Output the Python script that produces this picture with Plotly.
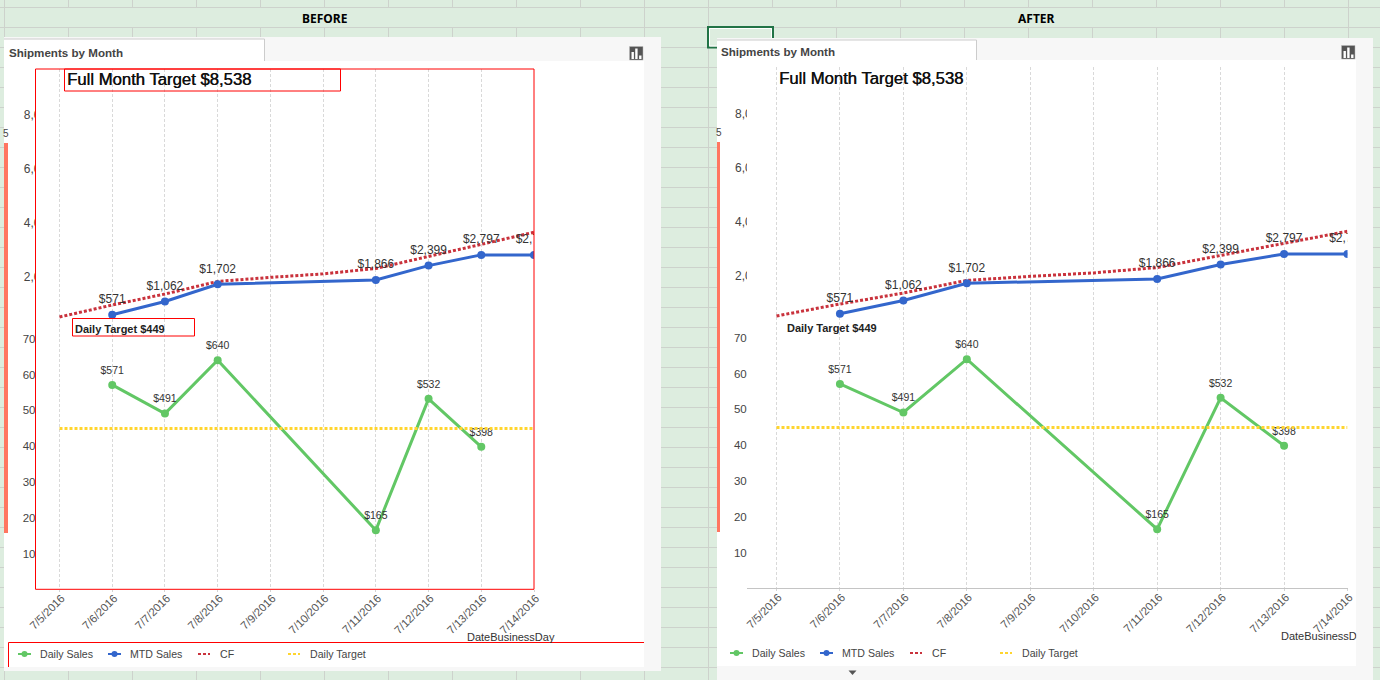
import plotly.graph_objects as go

# ---------- data ----------
dates = ["7/5/2016", "7/6/2016", "7/7/2016", "7/8/2016", "7/9/2016",
         "7/10/2016", "7/11/2016", "7/12/2016", "7/13/2016", "7/14/2016"]
sales_dates = ["7/6/2016", "7/7/2016", "7/8/2016", "7/11/2016", "7/12/2016", "7/13/2016"]
daily_sales = [571, 491, 640, 165, 532, 398]
mtd_dates = ["7/6/2016", "7/7/2016", "7/8/2016", "7/11/2016", "7/12/2016", "7/13/2016", "7/14/2016"]
mtd_sales = [571, 1062, 1702, 1866, 2399, 2797, 2797]
cf_values = [484, 931, 1340, 1810, 1960, 2090, 2290, 2740, 3170, 3640]
daily_target = [449, 449, 449, 449, 449, 449, 449, 449, 449, 449]
daily_ticks = [100, 200, 300, 400, 500, 600, 700]
daily_ticktext = ["10", "20", "30", "40", "50", "60", "70"]
mtd_ticks = [2000, 4000, 6000, 8000]
mtd_ticktext = ["2,0", "4,0", "6,0", "8,0"]
legend_names = ["Daily Sales", "MTD Sales", "CF", "Daily Target"]

# ---------- style ----------
W, H = 1380, 680
FONT = "Liberation Sans"
GREEN, BLUE, RED, YELLOW = "#62C765", "#3366CC", "#C9323C", "#FFD52E"
CELL_BG, CELL_LINE = "#DDEDDF", "#CDD2CC"
PANEL_GREY = "#F7F7F7"
SALMON = "#FF7661"
BOX_RED = "#FF0000"


def X(p):
    return p / W


def Y(p):
    return 1 - p / H


shapes = []
annots = []


def rect(x0, y0, x1, y1, fill=None, line=None, lw=1, layer="below"):
    shapes.append(dict(type="rect", xref="paper", yref="paper", layer=layer,
                       x0=X(x0), x1=X(x1), y0=Y(y1), y1=Y(y0),
                       fillcolor=fill or "rgba(0,0,0,0)",
                       line=dict(color=line or "rgba(0,0,0,0)", width=lw if line else 0)))


def seg(x0, y0, x1, y1, color, lw=1, dash=None, layer="below"):
    ln = dict(color=color, width=lw)
    if dash:
        ln["dash"] = dash
    shapes.append(dict(type="line", xref="paper", yref="paper", layer=layer,
                       x0=X(x0), x1=X(x1), y0=Y(y0), y1=Y(y1), line=ln))


def text(s, x, y, size=12, color="#333333", bold=False, anchor="left", family=FONT, shadow=None):
    font = dict(family=family, size=size, color=color)
    if shadow:
        font["shadow"] = shadow
    annots.append(dict(text=f"<b>{s}</b>" if bold else s, xref="paper", yref="paper",
                       x=X(x), y=Y(y), xanchor=anchor, yanchor="middle", showarrow=False,
                       borderpad=0, borderwidth=0, font=font))


# ---------- worksheet ----------
for k in range(0, 22):
    vx = 4.5 + 64 * k
    if vx > W:
        break
    merged = (4.5 < vx < 644) or (708.5 < vx < 1348)
    if merged:
        seg(vx, 0, vx, 7.5, CELL_LINE)
        seg(vx, 27.5, vx, H, CELL_LINE)
    else:
        seg(vx, 0, vx, H, CELL_LINE)
for k in range(0, 35):
    hy = 7.5 + 20 * k
    if hy <= H:
        seg(0, hy, W, hy, CELL_LINE)

# selected cell
rect(708, 27, 773, 47.5, line="#217346", lw=2)
rect(709.5, 28.5, 771.5, 46, line="#FFFFFF", lw=1)

text("BEFORE", 325, 18.5, size=12, color="#000000", bold=True, anchor="center", family="Noto Sans")
text("AFTER", 1036, 18.5, size=12, color="#000000", bold=True, anchor="center", family="Noto Sans")


def panel(left, top, right, bottom, inner_right, inner_top, inner_bottom, tab_right, dy, bar_right):
    rect(left, top, right, bottom, fill=PANEL_GREY)
    rect(left, inner_top, inner_right, inner_bottom, fill="#FFFFFF")
    rect(left, top + 2, tab_right, inner_top, fill="#FFFFFF")
    seg(left, top + 2, tab_right, top + 2, "#CCCCCC")
    seg(tab_right, top + 2, tab_right, inner_top, "#CCCCCC")
    rect(left, 143 - dy, bar_right, 533 - dy, fill=SALMON)
    # chart-type icon
    ix, iy = inner_right - 14.5, 46.5 - dy
    rect(ix, iy, ix + 13.5, iy + 13.5, fill="#555555", line="#BBBBBB", lw=0.5)
    for bx, bh in ((2, 7), (5.7, 10.5), (9.6, 3.5)):
        rect(ix + bx, iy + 12.5 - bh, ix + bx + 2.4, iy + 12.5, fill="#FFFFFF")


panel(4, 37, 661, 671, 644, 61, 667, 264.5, 0, 8)
panel(717, 38, 1373, 680, 1356, 60, 666, 976.5, 1, 720)

text("Shipments by Month", 9, 52.5, size=11.6, color="#444444", bold=True)
text("Shipments by Month", 721, 51.5, size=11.6, color="#444444", bold=True)
text("5", 3, 134, size=10, color="#444444")
text("5", 716, 133, size=10, color="#444444")

# drop-down triangle under the right panel
shapes.append(dict(type="path", xref="paper", yref="paper", layer="below",
                   path=f"M {X(848.5)},{Y(670.5)} L {X(856.5)},{Y(670.5)} L {X(852.5)},{Y(675)} Z",
                   fillcolor="#555555", line=dict(width=0)))

# ---------- charts ----------
fig = go.Figure()
PX_DAILY = 0.358      # pixels per unit, daily scale
PX_MTD = 0.02685      # pixels per unit, MTD scale


def add_chart(n, left, right, top, bottom, zero_mtd, x_first, axis_line):
    xa = f"x{n}" if n > 1 else "x"
    ya = f"y{2 * n - 1}" if n > 1 else "y"
    yb = f"y{2 * n}"
    span = (x_first - left)
    step = (right - x_first) / 9
    x_range = [-span / step, 9]

    def series(x, y, name, color, yref, dash=None, labels=False, font=12):
        fig.add_trace(go.Scatter(
            x=x, y=y, name=name, xaxis=xa, yaxis=yref, showlegend=False, hoverinfo="skip",
            mode="lines+markers" if labels else "lines",
            line=dict(color=color, width=3, dash=dash),
            marker=dict(color=color, size=8),
            cliponaxis=True))
        if labels:
            # value labels sit a little further above the points than the marker alone gives
            fig.add_trace(go.Scatter(
                x=x, y=y, name=name + " labels", xaxis=xa, yaxis=yref, showlegend=False,
                hoverinfo="skip", mode="markers+text",
                marker=dict(size=12, opacity=0),
                text=[f"${v:,}" for v in y], textposition="top center",
                textfont=dict(family=FONT, size=font, color="#333333"),
                cliponaxis=True))

    series(sales_dates, daily_sales, "Daily Sales", GREEN, ya, labels=True, font=10.5)
    series(dates, daily_target, "Daily Target", YELLOW, ya, dash="3px,2px")
    series(dates, cf_values, "CF", RED, yb, dash="3px,2px")
    series(mtd_dates, mtd_sales, "MTD Sales", BLUE, yb, labels=True)

    xkey = f"xaxis{n}" if n > 1 else "xaxis"
    yk1 = f"yaxis{2 * n - 1}" if n > 1 else "yaxis"
    yk2 = f"yaxis{2 * n}"
    height = bottom - top
    dom_y = [Y(bottom), Y(top)]
    fig.update_layout(**{
        xkey: dict(domain=[X(left), X(right)], anchor=ya, type="category",
                   categoryorder="array", categoryarray=dates, range=x_range,
                   tickmode="array", tickvals=dates, ticktext=dates, tickangle=-45,
                   ticks="outside", ticklen=2, tickcolor="#D4D4D4",
                   ticklabelstandoff=-5, ticklabelshift=2,
                   tickfont=dict(family=FONT, size=11.3, color="#555555"),
                   showgrid=True, gridcolor="#D9D9D9", gridwidth=1, griddash="3px,2px",
                   showline=axis_line, linecolor="#C4C4C4", linewidth=1, zeroline=False,
                   automargin=False),
        yk1: dict(domain=dom_y, anchor=xa, range=[0, height / PX_DAILY],
                  tickmode="array", tickvals=daily_ticks, ticktext=daily_ticktext,
                  ticklabelstandoff=-1,
                  tickfont=dict(family=FONT, size=11.5, color="#444444"),
                  showgrid=False, zeroline=False, showline=False, ticks="", automargin=False),
        yk2: dict(domain=dom_y, anchor="free", overlaying=ya, side="left",
                  position=X(left + 5),
                  range=[-(bottom - zero_mtd) / PX_MTD, (zero_mtd - top) / PX_MTD],
                  tickmode="array", tickvals=mtd_ticks, ticktext=mtd_ticktext,
                  tickfont=dict(family=FONT, size=12, color="#444444"),
                  showgrid=False, zeroline=False, showline=False, ticks="", automargin=False),
    })


add_chart(1, 35.5, 534, 69, 589.3, 330, 59.5, False)
add_chart(2, 746.7, 1347.5, 67, 588.3, 329, 776.5, True)

# covers that crop the wide MTD tick labels at the plot edge
rect(36, 100, 46, 290, fill="#FFFFFF", layer="above")
rect(747, 100, 757, 290, fill="#FFFFFF", layer="above")

# ---------- red outlines (left panel only) ----------
rect(35.5, 69, 534, 589.3, line=BOX_RED, lw=1, layer="above")
rect(64.5, 69, 340.5, 91, line=BOX_RED, lw=1, layer="above")
rect(72.5, 318.5, 194.5, 336, line=BOX_RED, lw=1, layer="above")
seg(8.5, 667, 8.5, 642.5, BOX_RED, lw=1, layer="above")
seg(8.5, 642.5, 644, 642.5, BOX_RED, lw=1, layer="above")

# ---------- chart texts ----------
HEAVY = "0.4px 0 0 #111111"
text("Full Month Target $8,538", 67, 79, size=16.7, color="#111111", shadow=HEAVY)
text("Full Month Target $8,538", 779, 78, size=16.7, color="#111111", shadow=HEAVY)
text("Daily Target $449", 74.5, 329, size=11, color="#222222", bold=True)
text("Daily Target $449", 786.5, 328, size=11, color="#222222", bold=True)
text("DateBusinessDay", 467, 636.5, size=11, color="#333333")
text("DateBusinessDa", 1280.5, 635.5, size=11, color="#333333")
annots.append(dict(text="&#160;", xref="paper", yref="paper", x=X(1356), y=Y(635.5),
                   xanchor="left", yanchor="middle", showarrow=False, width=10, height=14,
                   bgcolor=PANEL_GREY, borderpad=0, font=dict(size=8)))


# ---------- legends ----------
def legend(x_start, y, text_start):
    colors = [GREEN, BLUE, RED, YELLOW]
    for i, (name, c) in enumerate(zip(legend_names, colors)):
        x0 = x_start + 90 * i
        if i < 2:
            seg(x0, y, x0 + 13, y, c, lw=2, layer="above")
            shapes.append(dict(type="circle", xref="paper", yref="paper", layer="above",
                               x0=X(x0 + 3.5), x1=X(x0 + 9.5), y0=Y(y + 3), y1=Y(y - 3),
                               fillcolor=c, line=dict(width=0)))
        else:
            seg(x0, y, x0 + 12, y, c, lw=2, dash="3px,2px", layer="above")
        text(name, text_start + 90 * i, y, size=10.6, color="#444444")


legend(18, 654, 39.5)
legend(730, 653, 751.5)

fig.update_layout(
    width=W, height=H, autosize=False,
    margin=dict(l=0, r=0, t=0, b=0, pad=0),
    paper_bgcolor=CELL_BG, plot_bgcolor="rgba(0,0,0,0)",
    showlegend=False, hovermode=False,
    shapes=shapes, annotations=annots,
    font=dict(family=FONT),
)

fig.write_html("out.html", config=dict(displayModeBar=False),
               post_script="document.body.style.margin='0';document.body.style.overflow='hidden';")
